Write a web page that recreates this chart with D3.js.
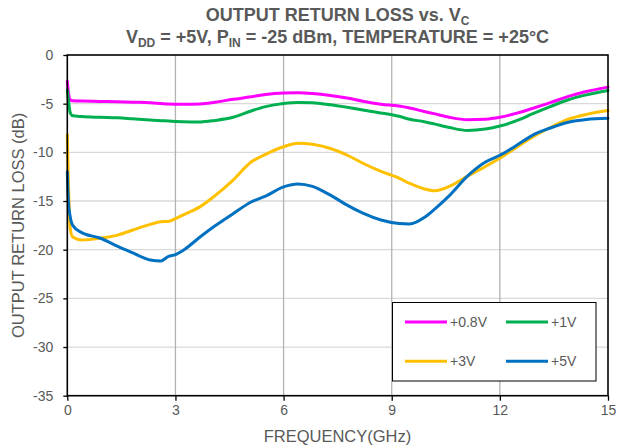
<!DOCTYPE html>
<html>
<head>
<meta charset="utf-8">
<script src="https://cdn.jsdelivr.net/npm/d3@7"></script>
<style>
  html, body { margin: 0; padding: 0; background: #fff; }
  svg { display: block; font-family: "Liberation Sans", Arial, sans-serif; }
</style>
</head>
<body>
<svg id="chart" width="625" height="448"></svg>
<script>
// Frequency grid (GHz) shared by every trace
const freqGHz = [0, 0.03, 0.08, 0.15, 0.4, 0.9, 1.4, 1.8, 2.3, 2.6, 2.8, 3.0, 3.2, 3.7, 4.1, 4.6,
  5.1, 5.5, 6.0, 6.4, 6.8, 7.3, 7.8, 8.2, 8.7, 9.2, 9.5, 9.9, 10.2, 10.6, 11.1, 11.6,
  12.0, 12.5, 12.9, 13.4, 13.9, 14.4, 15.0];

// Output return loss (dB) per control voltage
const rl_0v8 = [-2.7, -3.8, -4.6, -4.7, -4.73, -4.77, -4.8, -4.85, -4.9, -4.98, -5.03, -5.05, -5.06, -5.03, -4.85, -4.55,
  -4.3, -4.05, -3.9, -3.88, -3.95, -4.15, -4.45, -4.75, -5.05, -5.25, -5.45, -5.8, -6.05, -6.4, -6.65, -6.6,
  -6.4, -5.95, -5.5, -4.9, -4.25, -3.75, -3.3];
const rl_1v = [-3.6, -4.6, -5.9, -6.25, -6.33, -6.4, -6.45, -6.55, -6.68, -6.75, -6.78, -6.82, -6.85, -6.88, -6.72, -6.4,
  -5.75, -5.3, -4.98, -4.87, -4.9, -5.12, -5.4, -5.65, -5.95, -6.3, -6.6, -6.85, -7.1, -7.45, -7.75, -7.6,
  -7.3, -6.7, -6.05, -5.3, -4.6, -4.1, -3.65];
const rl_3v = [-8.2, -13.0, -17.8, -18.7, -19.0, -18.83, -18.5, -18.0, -17.4, -17.12, -17.1, -16.8, -16.45, -15.55, -14.45, -12.85,
  -11.0, -10.2, -9.42, -9.07, -9.17, -9.6, -10.35, -11.12, -11.95, -12.65, -13.2, -13.75, -13.95, -13.5, -12.45, -11.45,
  -10.6, -9.4, -8.45, -7.45, -6.6, -6.1, -5.7];
const rl_5v = [-12.0, -15.0, -16.6, -17.5, -18.25, -18.8, -19.65, -20.3, -21.05, -21.15, -20.7, -20.5, -20.1, -18.65, -17.55, -16.3,
  -15.1, -14.5, -13.55, -13.25, -13.5, -14.4, -15.5, -16.25, -16.95, -17.3, -17.35, -16.7, -15.8, -14.45, -12.45, -11.0,
  -10.3, -9.2, -8.25, -7.5, -6.9, -6.62, -6.5];

const seriesNames = ["+0.8V", "+1V", "+3V", "+5V"];
const seriesColors = ["#ff00ff", "#00b050", "#ffc000", "#0070c0"];
const seriesValues = [rl_0v8, rl_1v, rl_3v, rl_5v];

const xTicks = [0, 3, 6, 9, 12, 15];
const yTicks = [0, -5, -10, -15, -20, -25, -30, -35];

const svg = d3.select("#chart");
const m = { left: 67.3, right: 608, top: 55, bottom: 395.7 };
const textColor = "#595959";

const x = d3.scaleLinear().domain([0, 15]).range([m.left, m.right]);
const y = d3.scaleLinear().domain([-35, 0]).range([m.bottom, m.top]);

// Grid
svg.append("g").selectAll("line").data(yTicks.filter(d => d !== 0 && d !== -35)).join("line")
  .attr("x1", m.left).attr("x2", m.right)
  .attr("y1", d => y(d)).attr("y2", d => y(d))
  .attr("stroke", "#d9d9d9").attr("stroke-width", 1.3);
svg.append("g").selectAll("line").data(xTicks.filter(d => d !== 0 && d !== 15)).join("line")
  .attr("y1", m.top).attr("y2", m.bottom)
  .attr("x1", d => x(d)).attr("x2", d => x(d))
  .attr("stroke", "#b3b3b3").attr("stroke-width", 1.3);

// Axes
const xAxis = svg.append("g").attr("transform", `translate(0,${m.bottom})`)
  .call(d3.axisBottom(x).tickValues(xTicks).tickSize(5).tickPadding(4).tickFormat(d3.format("d")));
const yAxis = svg.append("g").attr("transform", `translate(${m.left},0)`)
  .call(d3.axisLeft(y).tickValues(yTicks).tickSize(4).tickPadding(10).tickFormat(d => d === 0 ? "0" : "-" + Math.abs(d)));
[xAxis, yAxis].forEach(g => {
  g.select(".domain").remove();
  g.selectAll(".tick line").attr("stroke", "#000").attr("stroke-width", 1.3);
  g.selectAll(".tick text").attr("fill", textColor).style("font-size", "14px")
    .style("font-family", '"Liberation Sans", Arial, sans-serif');
});

// Traces
const line = d3.line()
  .x((d, i) => x(freqGHz[i]))
  .y(d => y(d))
  .curve(d3.curveMonotoneX);
svg.append("g").selectAll("path").data(seriesValues).join("path")
  .attr("d", d => line(d))
  .attr("fill", "none")
  .attr("stroke", (d, i) => seriesColors[i])
  .attr("stroke-width", 3)
  .attr("stroke-linejoin", "round")
  .attr("stroke-linecap", "round");

// Frame
svg.append("rect")
  .attr("x", m.left).attr("y", m.top)
  .attr("width", m.right - m.left).attr("height", m.bottom - m.top)
  .attr("fill", "none").attr("stroke", "#000").attr("stroke-width", 1.6);

// Legend
const lg = svg.append("g");
lg.append("rect").attr("x", 392.5).attr("y", 302.5).attr("width", 203.5).attr("height", 78.5)
  .attr("fill", "#fff").attr("stroke", "#000").attr("stroke-width", 1);
const legendPos = [[405, 322], [506, 322], [405, 361.3], [506, 361.3]];
seriesNames.forEach((name, i) => {
  const [lx, ly] = legendPos[i];
  lg.append("line").attr("x1", lx).attr("x2", lx + 42).attr("y1", ly).attr("y2", ly)
    .attr("stroke", seriesColors[i]).attr("stroke-width", 3);
  lg.append("text").attr("x", lx + 45).attr("y", ly + 5).text(name)
    .attr("fill", textColor).style("font-size", "14px");
});

// Titles
const t1 = svg.append("text").attr("x", 337.5).attr("y", 21).attr("text-anchor", "middle")
  .attr("fill", textColor).style("font-size", "18px").style("font-weight", "bold");
t1.append("tspan").text("OUTPUT RETURN LOSS vs. V");
t1.append("tspan").text("C").attr("dy", 4).style("font-size", "12px");

const t2 = svg.append("text").attr("x", 337.5).attr("y", 43).attr("text-anchor", "middle")
  .attr("fill", textColor).style("font-size", "18px").style("font-weight", "bold");
t2.append("tspan").text("V");
t2.append("tspan").text("DD").attr("dy", 4).style("font-size", "12px");
t2.append("tspan").text(" = +5V, P").attr("dy", -4);
t2.append("tspan").text("IN").attr("dy", 4).style("font-size", "12px");
t2.append("tspan").text(" = -25 dBm, TEMPERATURE = +25°C").attr("dy", -4);

// Axis titles
svg.append("text").attr("x", 337.5).attr("y", 442).attr("text-anchor", "middle")
  .attr("fill", textColor).style("font-size", "16.5px").text("FREQUENCY(GHz)");
svg.append("text").attr("transform", `translate(24,${(m.top + m.bottom) / 2}) rotate(-90)`)
  .attr("text-anchor", "middle").attr("fill", textColor).style("font-size", "16.5px")
  .text("OUTPUT RETURN LOSS (dB)");
</script>
</body>
</html>
